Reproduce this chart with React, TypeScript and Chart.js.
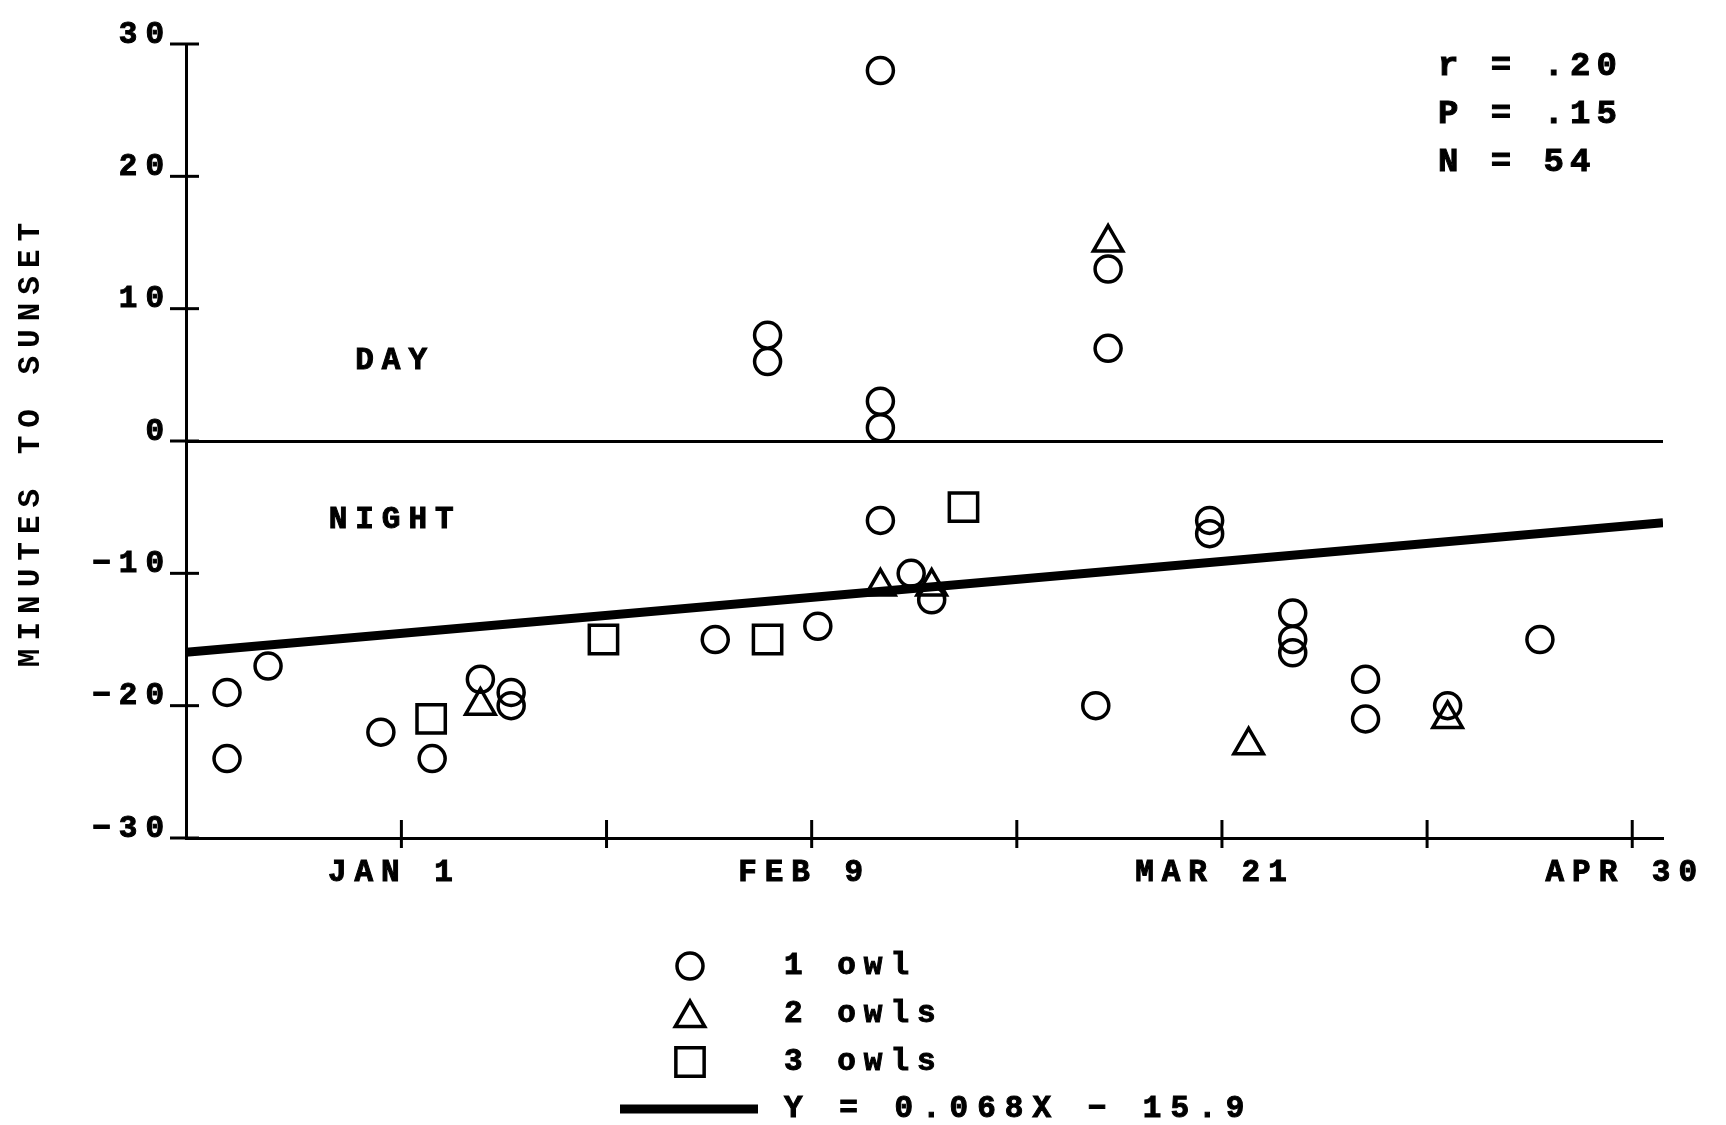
import React, { useEffect, useRef } from 'react';
import { Chart, registerables } from 'chart.js';

Chart.register(...registerables);

// ---- axis definitions (x = days from start of study period) ----
const X_MIN = -1;
const X_MAX = 143;
const X_TICK_VALUES = [20, 40, 60, 80, 100, 120, 140];
const X_TICK_TEXT = ['JAN 1', '', 'FEB 9', '', 'MAR 21', '', 'APR 30'];
const Y_MIN = -30;
const Y_MAX = 30;
const Y_TICK_VALUES = [-30, -20, -10, 0, 10, 20, 30];

// ---- data: minutes to sunset ----
const ONE_OWL_X = [3, 3, 7, 18, 23, 27.7, 30.7, 30.7, 50.6, 55.7, 55.7, 60.6, 66.7, 66.7, 66.7, 66.7, 69.7, 71.7, 88.9, 88.9, 87.7, 98.8, 98.8, 106.9, 106.9, 106.9, 114, 114, 122, 131];
const ONE_OWL_Y = [-19, -24, -17, -22, -24, -18, -19, -20, -15, 8, 6, -14, 28, 3, 1, -6, -10, -12, 13, 7, -20, -6, -7, -13, -15, -16, -18, -21, -20, -15];

const TWO_OWLS_X = [27.7, 66.7, 71.7, 88.9, 102.6, 122];
const TWO_OWLS_Y = [-20, -11, -11, 15, -23, -21];

const THREE_OWLS_X = [22.9, 39.7, 55.7, 74.8];
const THREE_OWLS_Y = [-21, -15, -15, -5];

// regression Y = 0.068X - 15.9
const SLOPE = 0.068;
const INTERCEPT = -15.9;

const STATS_TEXT = ['r = .20', 'P = .15', 'N = 54'];
const ZONE_TEXT = ['DAY', 'NIGHT'];
const ZONE_X = [19, 19];
const ZONE_Y = [6, -6];
const LEGEND_TEXT = ['1 owl', '2 owls', '3 owls', 'Y = 0.068X \u2212 15.9'];

const FONT_FAMILY = "'Liberation Mono', 'DejaVu Sans Mono', monospace";
const FONT_SIZE = 31;
const LETTER_SPACING = '8px';
const FONT = `bold ${FONT_SIZE}px ${FONT_FAMILY}`;
const STATS_FONT = `bold 34px ${FONT_FAMILY}`;

const CIRCLE_R = 13;
const TRIANGLE_R = 17;
const RECT_R = 20;
const MARKER_LW = 3.5;

const toPoints = (xs: number[], ys: number[]) => xs.map((x, i) => ({ x, y: ys[i] }));

function drawMarker(ctx: CanvasRenderingContext2D, style: string, x: number, y: number, r: number) {
  ctx.beginPath();
  if (style === 'circle') {
    ctx.arc(x, y, r, 0, Math.PI * 2);
  } else if (style === 'triangle') {
    ctx.moveTo(x, y - r);
    ctx.lineTo(x + Math.sin(Math.PI * 2 / 3) * r, y + r / 2);
    ctx.lineTo(x - Math.sin(Math.PI * 2 / 3) * r, y + r / 2);
    ctx.closePath();
  } else {
    const s = Math.SQRT1_2 * r;
    ctx.rect(x - s, y - s, 2 * s, 2 * s);
  }
  ctx.stroke();
}

function boldText(ctx: CanvasRenderingContext2D, t: string, x: number, y: number) {
  ctx.fillText(t, x, y);
  ctx.lineWidth = 1;
  ctx.strokeText(t, x, y);
}

const decorPlugin = {
  id: 'owlDecor',
  beforeUpdate(chart: any) {
    chart.ctx.letterSpacing = LETTER_SPACING;
  },
  beforeDraw(chart: any) {
    const ctx = chart.ctx;
    ctx.letterSpacing = LETTER_SPACING;
    ctx.save();
    ctx.fillStyle = '#fff';
    ctx.fillRect(0, 0, chart.width, chart.height);
    ctx.restore();
  },
  afterDraw(chart: any) {
    const ctx = chart.ctx;
    const xs = chart.scales.x;
    const ys = chart.scales.y;
    const area = chart.chartArea;
    ctx.save();
    ctx.letterSpacing = LETTER_SPACING;
    ctx.strokeStyle = '#000';
    ctx.fillStyle = '#000';
    ctx.lineWidth = 3;
    // x tick marks crossing the axis
    X_TICK_VALUES.forEach((v) => {
      const px = xs.getPixelForValue(v);
      ctx.beginPath();
      ctx.moveTo(px, area.bottom - 18);
      ctx.lineTo(px, area.bottom + 10);
      ctx.stroke();
    });
    // y tick marks crossing the axis
    Y_TICK_VALUES.forEach((v) => {
      const py = ys.getPixelForValue(v);
      ctx.beginPath();
      ctx.moveTo(area.left - 16, py);
      ctx.lineTo(area.left + 13, py);
      ctx.stroke();
    });
    ctx.font = FONT;
    ctx.textBaseline = 'middle';
    // DAY / NIGHT labels
    ctx.textAlign = 'center';
    ZONE_TEXT.forEach((t, i) => {
      boldText(ctx, t, xs.getPixelForValue(ZONE_X[i]) + 4, ys.getPixelForValue(ZONE_Y[i]));
    });
    // statistics block
    ctx.textAlign = 'left';
    ctx.font = STATS_FONT;
    ctx.letterSpacing = '6px';
    STATS_TEXT.forEach((t, i) => {
      boldText(ctx, t, 1438, area.top + 22 + i * 48);
    });
    ctx.letterSpacing = LETTER_SPACING;
    ctx.font = FONT;
    // legend
    const lx = 690;
    const tx = 784;
    const rows = [966, 1014, 1062, 1109];
    const styles = ['circle', 'triangle', 'rect'];
    const radii = [CIRCLE_R, TRIANGLE_R, RECT_R];
    styles.forEach((s, i) => {
      ctx.lineWidth = MARKER_LW;
      ctx.strokeStyle = '#000';
      drawMarker(ctx, s, lx, rows[i] + (s === 'triangle' ? 4 : 0), radii[i]);
    });
    ctx.lineWidth = 9;
    ctx.beginPath();
    ctx.moveTo(620, rows[3]);
    ctx.lineTo(758, rows[3]);
    ctx.stroke();
    ctx.fillStyle = '#000';
    ctx.textAlign = 'left';
    LEGEND_TEXT.forEach((t, i) => {
      if (i === 3) ctx.letterSpacing = '9px';
      boldText(ctx, t, tx, rows[i]);
    });
    ctx.restore();
  },
};

export default function App() {
  const canvasRef = useRef<HTMLCanvasElement | null>(null);

  useEffect(() => {
    const canvas = canvasRef.current;
    if (!canvas) return;
    Chart.defaults.font.family = FONT_FAMILY;
    Chart.defaults.font.size = FONT_SIZE;
    Chart.defaults.font.weight = 'bold';
    Chart.defaults.color = '#000';

    const markerCommon = {
      showLine: false,
      pointBorderColor: '#000',
      pointBackgroundColor: 'rgba(0,0,0,0)',
      pointBorderWidth: MARKER_LW,
      pointHoverRadius: 0,
    };

    const chart = new Chart(canvas, {
      type: 'scatter',
      data: {
        datasets: [
          {
            type: 'line',
            label: 'fit',
            data: [
              { x: X_MIN, y: SLOPE * X_MIN + INTERCEPT },
              { x: X_MAX, y: SLOPE * X_MAX + INTERCEPT },
            ],
            borderColor: '#000',
            borderWidth: 9,
            pointRadius: 0,
            fill: false,
          } as any,
          {
            label: '1 owl',
            data: toPoints(ONE_OWL_X, ONE_OWL_Y),
            pointStyle: 'circle',
            pointRadius: CIRCLE_R,
            ...markerCommon,
          },
          {
            label: '2 owls',
            data: toPoints(TWO_OWLS_X, TWO_OWLS_Y),
            pointStyle: 'triangle',
            pointRadius: TRIANGLE_R,
            ...markerCommon,
          },
          {
            label: '3 owls',
            data: toPoints(THREE_OWLS_X, THREE_OWLS_Y),
            pointStyle: 'rect',
            pointRadius: RECT_R,
            ...markerCommon,
          },
        ],
      },
      options: {
        responsive: false,
        animation: false,
        events: [],
        layout: { padding: { left: 0, right: 63, top: 44, bottom: 0 } },
        plugins: {
          legend: { display: false },
          tooltip: { enabled: false },
        },
        scales: {
          x: {
            type: 'linear',
            min: X_MIN,
            max: X_MAX,
            afterFit: (s: any) => {
              s.height = 287;
              s.paddingLeft = 0;
              s.paddingRight = 0;
            },
            afterBuildTicks: (s: any) => {
              s.ticks = X_TICK_VALUES.map((v) => ({ value: v }));
            },
            grid: { display: false, drawTicks: false },
            border: { display: true, color: '#000', width: 3 },
            ticks: {
              autoSkip: false,
              maxRotation: 0,
              padding: 17,
              labelOffset: -7,
              textStrokeColor: '#000',
              textStrokeWidth: 1,
              callback: (v: any) => {
                const i = X_TICK_VALUES.indexOf(Number(v));
                return i >= 0 ? X_TICK_TEXT[i] : '';
              },
            },
          },
          y: {
            type: 'linear',
            min: Y_MIN,
            max: Y_MAX,
            afterFit: (s: any) => {
              s.width = 186;
              s.paddingTop = 0;
              s.paddingBottom = 0;
            },
            afterBuildTicks: (s: any) => {
              s.ticks = Y_TICK_VALUES.map((v) => ({ value: v }));
            },
            grid: {
              drawTicks: false,
              lineWidth: 3,
              color: (c: any) => (c.tick && c.tick.value === 0 ? '#000' : 'rgba(0,0,0,0)'),
            },
            border: { display: true, color: '#000', width: 3 },
            ticks: {
              padding: 14,
              labelOffset: -9,
              textStrokeColor: '#000',
              textStrokeWidth: 1,
              callback: (v: any) => (Number(v) < 0 ? '\u2212' + Math.abs(Number(v)) : String(v)),
            },
            title: {
              display: true,
              text: 'MINUTES TO SUNSET',
              padding: { top: 13, bottom: 0 },
            },
          },
        },
      },
      plugins: [decorPlugin],
    } as any);

    return () => {
      chart.destroy();
    };
  }, []);

  return (
    <div style={{ position: 'fixed', left: 0, top: 0, width: 1726, height: 1125, background: '#fff' }}>
      <canvas ref={canvasRef} width={1726} height={1125} style={{ width: 1726, height: 1125, display: 'block' }} />
    </div>
  );
}
